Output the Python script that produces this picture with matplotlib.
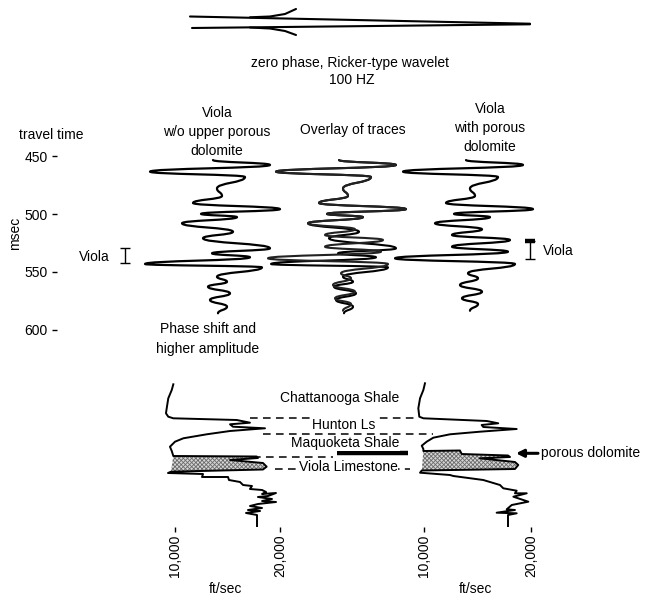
import numpy as np
import matplotlib
matplotlib.use('Agg')
import matplotlib.pyplot as plt
from matplotlib.path import Path
from matplotlib.patches import PathPatch
from matplotlib.transforms import blended_transform_factory

plt.rcParams['font.family'] = ['Liberation Sans', 'DejaVu Sans']
plt.rcParams['font.size'] = 10
plt.rcParams['hatch.linewidth'] = 0.6

# ---------------- data ----------------
time_ticks = [450, 500, 550, 600]

# synthetic trace extrema: travel time (msec) and relative amplitude
trace_wo_time = [453.5, 457.7, 463.5, 468.1, 478.0, 484.4, 490.5, 495.8, 499.9, 502.7,
                 508.0, 515.3, 520.9, 529.6, 533.9, 537.3, 543.1, 546.0, 554.1, 558.4,
                 562.7, 568.4, 574.1, 579.9, 585.6]
trace_wo_amp = [-0.2, 5.5, -6.5, 3.0, 0.2, 0.7, -2.2, 6.5, -1.4, 2.2,
                -3.3, 1.8, -1.2, 5.5, -0.3, 3.5, -7.0, 4.7, 0.2, 1.2,
                -0.7, 1.5, -0.5, 1.2, 0.3]
trace_with_time = [453.5, 457.7, 463.5, 468.1, 478.0, 484.4, 490.5, 495.8, 499.9, 502.7,
                   508.0, 513.2, 518.1, 522.4, 528.2, 532.5, 538.2, 543.1, 551.1, 555.4,
                   561.2, 567.0, 572.7, 577.6, 583.4]
trace_with_amp = [-0.2, 5.5, -6.5, 3.0, 0.2, 0.7, -2.2, 6.5, -1.4, 2.2,
                  -3.3, 1.4, -1.6, 4.2, -1.6, 4.0, -7.3, 4.7, 0.0, 1.0,
                  -0.8, 1.4, -0.6, 1.0, 0.2]

viola_wo_interval = [529.0, 542.5]     # msec
viola_with_interval = [523.0, 539.0]   # msec

# sonic logs: velocity (ft/sec) vs relative depth
log_wo_velocity = [9840, 9690, 9360, 9210, 9140, 9360, 9840, 15880, 17140, 15240,
                   15520, 18570, 15240, 13020, 10790, 10000, 9520, 9690, 9840, 17780,
                   17900, 15240, 18380, 18730, 18380, 9620, 9330, 12670, 12570, 15050,
                   15140, 16190, 16480, 17330, 17140, 18290, 18670, 18290, 19620, 18860,
                   17900, 19240, 18290, 19620, 17900, 17140, 18290, 16950, 18100, 16760,
                   17810, 17810]
log_wo_depth = [4.3, 10, 18.3, 28.3, 33.3, 36.7, 38.3, 40, 42.7, 44.3,
                46.7, 48.3, 51, 54.3, 58.3, 61.7, 66.7, 71, 76, 76.5,
                78, 80, 83, 86.7, 89.5, 91.7, 93, 94, 97, 97,
                100, 102, 105, 106, 109, 110, 112, 114, 113, 116,
                117, 119, 121, 122, 124, 126, 128, 130, 131, 133,
                135, 147]
log_with_velocity = [10090, 9940, 9630, 9470, 9560, 9940, 15860, 16940, 15390, 15540,
                     18660, 15230, 12430, 10870, 10250, 9790, 9940, 9940, 13360, 13520,
                     17850, 18040, 15230, 18500, 18810, 18500, 9790, 9630, 12430, 12740,
                     15540, 17100, 17410, 18660, 18500, 19600, 18350, 19750, 18200, 17730,
                     18500, 16790, 18660, 17850, 17850]
log_with_depth = [3.3, 10, 18.3, 28.3, 36.7, 38.3, 41, 43.3, 45, 47,
                  49, 51.7, 54.3, 57.7, 61.7, 65.7, 69, 71, 70.5, 74,
                  75.5, 77, 78.3, 82, 85, 89, 90.5, 92.7, 95, 96,
                  100, 105, 108.3, 110.7, 113.3, 113.3, 116.7, 121.7, 125, 129.3,
                  130, 132.7, 133.3, 135, 147]

porous_wo_depth = [76, 91.7]     # stippled interval, log without porous dolomite
porous_with_depth = [71, 90.5]   # stippled interval, log with porous dolomite

velocity_ticks = [10000, 20000]
velocity_tick_labels = ['10,000', '20,000']

formation_names = ['Chattanooga Shale', 'Hunton Ls', 'Maquoketa Shale', 'Viola Limestone']
formation_label_depth = [18, 45, 63.3, 86.7]
formation_top_depth = [38.3, 54.0, 77.3, 89.3]   # Hunton, Maquoketa, Viola top, Viola base
porous_dolomite_depth = 73.3

# wavelet sketch at top (figure pixel space)
wavelet_upper_x = [190, 530]
wavelet_upper_y = [16.5, 23.7]
wavelet_lower_x = [192, 530]
wavelet_lower_y = [28.0, 24.3]
barb_upper_x = [250, 270, 285, 296]
barb_upper_y = [17.3, 16.5, 14.0, 9.0]
barb_lower_x = [250, 270, 285, 296]
barb_lower_y = [27.5, 28.5, 31.0, 35.0]

# ---------------- figure ----------------
W, H = 650, 602
fig = plt.figure(figsize=(6.5, 6.02), dpi=100)


def box(x0, y0, x1, y1):
    return [x0 / W, 1 - y1 / H, (x1 - x0) / W, (y1 - y0) / H]


ax_o = fig.add_axes([0, 0, 1, 1])
ax_o.set_xlim(0, W)
ax_o.set_ylim(H, 0)
ax_o.axis('off')

# wavelet sketch
for xs, ys in [(wavelet_upper_x, wavelet_upper_y), (wavelet_lower_x, wavelet_lower_y),
               (barb_upper_x, barb_upper_y), (barb_lower_x, barb_lower_y)]:
    ax_o.plot(xs, ys, color='black', lw=1.5, solid_capstyle='round')

ax_o.text(350, 63, 'zero phase, Ricker-type wavelet', ha='center', va='center')
ax_o.text(352, 80, '100 HZ', ha='center', va='center')

ax_o.text(19, 135, 'travel time', ha='left', va='center')
ax_o.text(15, 233, 'msec', rotation=90, ha='center', va='center')

ax_o.text(217, 132, 'Viola\nw/o upper porous\ndolomite', ha='center', va='center',
          linespacing=1.45)
ax_o.text(353, 130, 'Overlay of traces', ha='center', va='center')
ax_o.text(490, 128, 'Viola\nwith porous\ndolomite', ha='center', va='center',
          linespacing=1.45)
ax_o.text(208, 339, 'Phase shift and\nhigher amplitude', ha='center', va='center',
          linespacing=1.5)

# ---------------- seismic traces ----------------
def t_of(y):
    return 450 + (y - 156) / 1.16


ax_s = fig.add_axes(box(57, 140, 600, 335))
ax_s.patch.set_alpha(0)
ax_s.set_xlim(57, 600)
ax_s.set_ylim(t_of(335), t_of(140))
for s in ax_s.spines.values():
    s.set_visible(False)
ax_s.set_xticks([])
ax_s.set_yticks(time_ticks)
ax_s.tick_params(axis='y', length=3.6, width=1.0, pad=3, labelsize=10)


def wiggle(ax, t, a, x0, scale=10.0, lw=1.6, color='black'):
    xs = x0 + np.asarray(a) * scale
    verts = [(xs[0], t[0])]
    codes = [Path.MOVETO]
    for i in range(len(t) - 1):
        dt = t[i + 1] - t[i]
        verts += [(xs[i], t[i] + 0.5 * dt), (xs[i + 1], t[i + 1] - 0.5 * dt), (xs[i + 1], t[i + 1])]
        codes += [Path.CURVE4] * 3
    ax.add_patch(PathPatch(Path(verts, codes), fill=False, lw=lw, edgecolor=color,
                           capstyle='round', joinstyle='round'))


wiggle(ax_s, trace_wo_time, trace_wo_amp, 215)
wiggle(ax_s, trace_wo_time, trace_wo_amp, 341, lw=1.5)
wiggle(ax_s, trace_with_time, trace_with_amp, 341, lw=1.5, color='#222222')
wiggle(ax_s, trace_with_time, trace_with_amp, 468)

# Viola interval markers
mid = np.mean(viola_wo_interval)
ax_s.errorbar(125, mid, yerr=(viola_wo_interval[1] - viola_wo_interval[0]) / 2,
              fmt='none', ecolor='black', elinewidth=1.0, capsize=3.5, capthick=1.0)
ax_s.text(110, 536.8, 'Viola', ha='right', va='center')
mid = np.mean(viola_with_interval)
ax_s.errorbar(530, mid, yerr=(viola_with_interval[1] - viola_with_interval[0]) / 2,
              fmt='none', ecolor='black', elinewidth=1.0, capsize=3.5, capthick=1.0)
ax_s.plot([530], [viola_with_interval[0]], marker='_', ms=7, mew=3.2, color='black')
ax_s.text(543, 531.6, 'Viola', ha='left', va='center')

# ---------------- sonic logs ----------------
def v_of(x, x10, x20):
    return 10000 + (x - x10) * 10000 / (x20 - x10)


def make_log_ax(x0, x1, x10, x20):
    ax = fig.add_axes(box(x0, 380, x1, 527))
    ax.patch.set_alpha(0)
    ax.set_xlim(v_of(x0, x10, x20), v_of(x1, x10, x20))
    ax.set_ylim(147, 0)
    for s in ax.spines.values():
        s.set_visible(False)
    ax.set_yticks([])
    ax.set_xticks(velocity_ticks)
    ax.set_xticklabels(velocity_tick_labels, rotation=90)
    ax.tick_params(axis='x', length=3.6, width=1.0, pad=2, labelsize=10)
    ax.set_xlabel('ft/sec', labelpad=3)
    return ax


axL = make_log_ax(150, 300, 175, 280)
axR = make_log_ax(400, 550, 424, 531)

for ax, v, d, zone in [(axL, log_wo_velocity, log_wo_depth, porous_wo_depth),
                       (axR, log_with_velocity, log_with_depth, porous_with_depth)]:
    v = np.asarray(v, float)
    d = np.asarray(d, float)
    m = (d >= zone[0] - 1e-6) & (d <= zone[1] + 1e-6)
    idx = np.where(m)[0]
    seg = np.arange(idx.min(), idx.max() + 1)
    ax.fill(v[seg], d[seg], facecolor='#d6d6d6', edgecolor='#6a6a6a', hatch='xxxxxxxx',
            linewidth=0, zorder=1)
    ax.plot(v, d, color='black', lw=1.4, zorder=2, solid_joinstyle='round')

# formation boundaries (dashed) spanning both logs
tr = blended_transform_factory(ax_o.transData, axL.transData)
dash_spans = [(250, 415), (263, 433), (253, 333), (275, 410)]
for (xa, xb), dtop in zip(dash_spans, formation_top_depth):
    ax_o.plot([xa, xb], [dtop, dtop], transform=tr, color='black', lw=1.1,
              linestyle=(0, (5, 3.5)), clip_on=False)

label_x = [340, 344, 345, 348]
for name, xx, dd in zip(formation_names, label_x, formation_label_depth):
    ax_o.text(xx, dd, name, transform=tr, ha='center', va='center',
              bbox=dict(facecolor='white', edgecolor='none', pad=0.5))

# porous dolomite bar and arrow
ax_o.plot([337, 408], [porous_dolomite_depth, porous_dolomite_depth], transform=tr,
          color='black', lw=3.2, solid_capstyle='butt')
ax_o.annotate('', xy=(516, porous_dolomite_depth), xytext=(538, porous_dolomite_depth),
              xycoords=tr, textcoords=tr,
              arrowprops=dict(arrowstyle='-|>', lw=2.2, color='black', mutation_scale=11,
                              shrinkA=0, shrinkB=0))
ax_o.text(541, porous_dolomite_depth, 'porous dolomite', transform=tr, ha='left', va='center')

fig.savefig('out.png', dpi=100, facecolor='white')
